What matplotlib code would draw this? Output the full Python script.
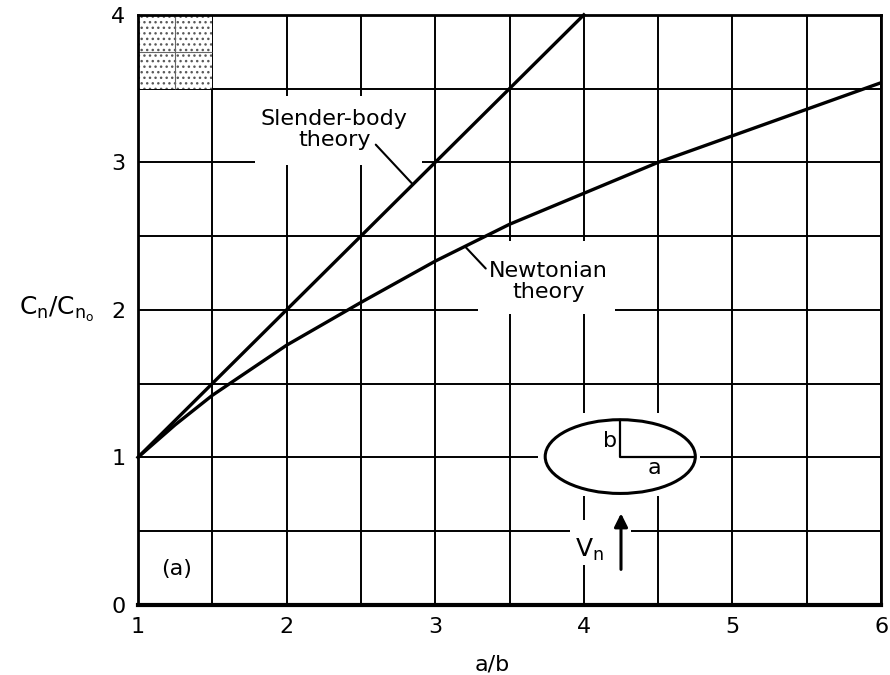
import numpy as np
import matplotlib.pyplot as plt
from matplotlib.patches import Rectangle, Ellipse

# данные
sb_x = [1, 4]
sb_y = [1, 4]

newt_x = [1, 1.25, 1.5, 2, 2.5, 3, 3.5, 4, 4.5, 5, 5.5, 6]
newt_y = [1, 1.22, 1.42, 1.76, 2.05, 2.33, 2.58, 2.79, 3.0, 3.18, 3.36, 3.54]

x_ticks = [1, 2, 3, 4, 5, 6]
y_ticks = [0, 1, 2, 3, 4]

fig = plt.figure(figsize=(8.9, 6.75), dpi=100)
ax = fig.add_axes([0.155, 0.104, 0.835, 0.874])

ax.set_xlim(1, 6)
ax.set_ylim(0, 4)

# сетка через 0.5
gx = np.arange(1, 6.01, 0.5)
gy = np.arange(0, 4.01, 0.5)
ax.set_xticks(gx)
ax.set_xticklabels([f'{v:.0f}' if v in x_ticks else '' for v in gx])
ax.set_yticks(gy)
ax.set_yticklabels([f'{v:.0f}' if v in y_ticks else '' for v in gy])
ax.tick_params(length=0, labelsize=16, pad=9)
ax.set_axisbelow(True)
ax.grid(True, color='black', lw=1.4)
for side in ['left', 'top', 'right']:
    ax.spines[side].set_linewidth(2.0)
ax.spines['bottom'].set_linewidth(3.0)

# белые поля, разрывающие сетку у подписей
for (x0, y0, w, h) in [(1.79, 2.98, 1.12, 0.47), (3.29, 1.97, 0.92, 0.50),
                       (3.69, 0.74, 1.09, 0.56), (3.91, 0.27, 0.41, 0.306)]:
    ax.add_patch(Rectangle((x0, y0), w, h, facecolor='white', edgecolor='none', zorder=1))

# заштрихованный квадрат в углу
ax.add_patch(Rectangle((1, 3.5), 0.5, 0.5, facecolor='white', edgecolor='0.35',
                       hatch='...', lw=0, zorder=1))
ax.vlines(1.25, 3.5, 4, color='0.4', lw=0.8, zorder=1.5)
ax.hlines(3.75, 1, 1.5, color='0.4', lw=0.8, zorder=1.5)

ax.plot(sb_x, sb_y, color='black', lw=2.4, zorder=3, clip_on=False)
ax.plot(newt_x, newt_y, color='black', lw=2.4, zorder=3)

ax.text(2.32, 3.22, 'Slender-body\ntheory', fontsize=16, ha='center', va='center',
        linespacing=1.05, zorder=4)
ax.annotate('', xy=(2.85, 2.85), xytext=(2.60, 3.12),
            arrowprops=dict(arrowstyle='-', lw=1.5, color='black', shrinkA=0, shrinkB=0))
ax.text(3.76, 2.19, 'Newtonian\ntheory', fontsize=16, ha='center', va='center',
        linespacing=1.05, zorder=4)
ax.annotate('', xy=(3.20, 2.43), xytext=(3.34, 2.28),
            arrowprops=dict(arrowstyle='-', lw=1.5, color='black', shrinkA=0, shrinkB=0))

# эллиптическое сечение
ex, ey, ea, eb = 4.245, 1.005, 0.505, 0.25
ax.add_patch(Ellipse((ex, ey), 2 * ea, 2 * eb, facecolor='none', edgecolor='black',
                     lw=2.2, zorder=3))
ax.plot([ex, ex, ex + ea], [ey + eb, ey, ey], color='black', lw=1.6, zorder=3)
ax.text(4.175, 1.11, 'b', fontsize=16, ha='center', va='center', zorder=4)
ax.text(4.475, 0.93, 'a', fontsize=16, ha='center', va='center', zorder=4)
ax.text(4.04, 0.37, r'$\mathregular{V_n}$', fontsize=18, ha='center', va='center', zorder=4)
ax.annotate('', xy=(4.25, 0.62), xytext=(4.25, 0.24),
            arrowprops=dict(arrowstyle='-|>', lw=2.2, color='black', mutation_scale=20,
                            shrinkA=0, shrinkB=0))

ax.text(1.26, 0.24, '(a)', fontsize=16, ha='center', va='center')

ax.set_xlabel('a/b', fontsize=16)
ax.xaxis.set_label_coords(0.477, -0.085)
ax.set_ylabel(r'$\mathregular{C_n/C_{n_o}}$', fontsize=18, rotation=0, ha='center', va='center')
ax.yaxis.set_label_coords(-0.109, 0.5)

plt.savefig('out.png', dpi=100)
